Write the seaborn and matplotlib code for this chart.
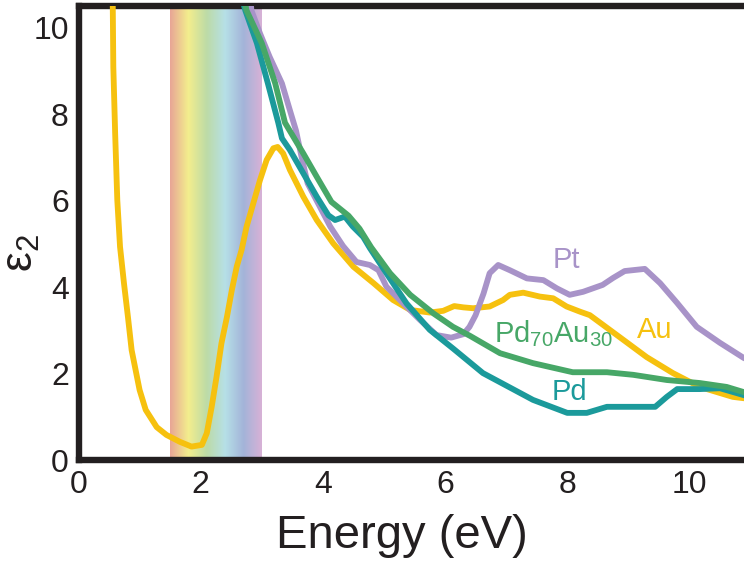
import numpy as np
import pandas as pd
import matplotlib
matplotlib.use("Agg")
import matplotlib.pyplot as plt
from matplotlib import font_manager
from matplotlib.colors import LinearSegmentedColormap
import seaborn as sns

# ---------------- data ----------------
au_x = [0.52, 0.56, 0.57, 0.60, 0.635, 0.68, 0.745, 0.81, 0.87, 1.0, 1.10, 1.28, 1.44, 1.66, 1.85,
        2.02, 2.10, 2.18, 2.26, 2.34, 2.43, 2.51, 2.59, 2.67, 2.75, 2.86, 2.97, 3.08, 3.19, 3.26,
        3.35, 3.46, 3.68, 3.90, 4.17, 4.50, 4.83, 5.15, 5.43, 5.75, 5.97, 6.15, 6.30, 6.46, 6.73,
        6.95, 7.06, 7.28, 7.55, 7.77, 7.99, 8.21, 8.37, 8.86, 9.30, 9.73, 10.17, 10.71, 11.0]
au_y = [11.2, 10.64, 9.09, 7.55, 6.01, 4.93, 4.08, 3.3, 2.54, 1.62, 1.16, 0.76, 0.58, 0.42, 0.31,
        0.35, 0.62, 1.23, 1.93, 2.7, 3.31, 3.93, 4.47, 4.86, 5.39, 5.93, 6.47, 6.94, 7.21, 7.24,
        7.09, 6.71, 6.09, 5.55, 5.01, 4.47, 4.09, 3.70, 3.47, 3.41, 3.45, 3.56, 3.53, 3.51, 3.55,
        3.70, 3.82, 3.87, 3.78, 3.74, 3.55, 3.43, 3.35, 2.84, 2.38, 2.01, 1.69, 1.46, 1.41]

pt_x = [2.80, 2.83, 2.97, 3.13, 3.33, 3.46, 3.56, 3.65, 3.75, 3.95, 4.12, 4.33, 4.55, 4.77, 4.91,
        5.04, 5.26, 5.59, 5.86, 6.10, 6.30, 6.40, 6.50, 6.63, 6.73, 6.87, 7.06, 7.34, 7.61, 7.83,
        8.04, 8.26, 8.58, 8.75, 8.94, 9.27, 9.52, 9.80, 10.12, 10.50, 10.89, 11.0]
pt_y = [10.87, 10.4, 9.87, 9.32, 8.71, 8.09, 7.62, 7.02, 6.40, 5.86, 5.40, 4.95, 4.58, 4.51, 4.39,
        4.01, 3.70, 3.24, 2.89, 2.83, 2.91, 3.08, 3.35, 3.85, 4.32, 4.51, 4.39, 4.20, 4.16, 3.97,
        3.82, 3.89, 4.05, 4.21, 4.37, 4.42, 4.09, 3.63, 3.08, 2.71, 2.36, 2.29]

pd_x = [2.64, 2.73, 2.92, 3.10, 3.27, 3.33, 3.46, 3.68, 3.90, 4.09, 4.20, 4.36, 4.49, 4.66, 4.77,
        5.04, 5.37, 5.75, 6.13, 6.62, 7.44, 8.0, 8.32, 8.65, 9.08, 9.44, 9.63, 9.80, 10.17, 10.50,
        10.89, 11.0]
pd_y = [10.87, 10.4, 9.64, 8.71, 7.80, 7.44, 7.17, 6.63, 6.09, 5.66, 5.55, 5.63, 5.40, 5.16, 4.90,
        4.32, 3.62, 3.01, 2.58, 2.01, 1.39, 1.09, 1.09, 1.23, 1.23, 1.23, 1.46, 1.64, 1.64, 1.66,
        1.50, 1.46]

pdau_x = [2.68, 2.75, 3.0, 3.22, 3.38, 3.68, 3.90, 4.14, 4.42, 4.60, 4.79, 5.10, 5.43, 5.81, 6.13,
          6.41, 6.90, 7.44, 8.09, 8.65, 9.08, 9.63, 10.17, 10.61, 10.89, 11.0]
pdau_y = [10.87, 10.4, 9.64, 8.71, 7.80, 7.09, 6.55, 5.97, 5.65, 5.35, 4.92, 4.32, 3.82, 3.39, 3.08,
          2.87, 2.47, 2.24, 2.03, 2.03, 1.97, 1.85, 1.78, 1.69, 1.57, 1.53]

series_names = ["Au", "Pt", "Pd", "PdAu"]
series_labels = ["Au", "Pt", "Pd", "Pd$_{70}$Au$_{30}$"]
label_x = [9.43, 7.99, 8.04, 7.77]
label_y = [3.0, 4.62, 1.57, 2.93]
x_ticks = [0, 2, 4, 6, 8, 10]
y_ticks = [0, 2, 4, 6, 8, 10]
visible_band = [1.5, 3.0]

colors = {"Pt": "#A893C8", "Au": "#F6C10F", "Pd": "#1B9A9B", "PdAu": "#47A767"}
band_colors = ["#E8A596", "#F3EE8D", "#BDDBA7", "#B6E0E7", "#A3B4D9", "#D8B1D6"]

frames = [
    pd.DataFrame({"E": au_x, "eps2": au_y, "metal": "Au"}),
    pd.DataFrame({"E": pt_x, "eps2": pt_y, "metal": "Pt"}),
    pd.DataFrame({"E": pd_x, "eps2": pd_y, "metal": "Pd"}),
    pd.DataFrame({"E": pdau_x, "eps2": pdau_y, "metal": "PdAu"}),
]
df = pd.concat(frames, ignore_index=True)

# ---------------- style ----------------
sns.set_theme(style="white")
plt.rcParams["font.family"] = ["Liberation Sans", "DejaVu Sans"]
plt.rcParams["mathtext.fontset"] = "custom"
plt.rcParams["mathtext.rm"] = "Liberation Sans"
plt.rcParams["mathtext.it"] = "Liberation Sans"
plt.rcParams["mathtext.default"] = "regular"

try:
    font_manager.findfont(font_manager.FontProperties(family="Liberation Sans Narrow"),
                          fallback_to_default=False)
    label_family = ["Liberation Sans Narrow", "Liberation Sans", "DejaVu Sans"]
    label_size = 41
except Exception:
    label_family = ["Liberation Sans", "DejaVu Sans"]
    label_size = 34

ink = "#231F20"
fig = plt.figure(figsize=(7.44, 5.62), dpi=100)
ax = fig.add_axes([78.5 / 744, 102 / 562, 672 / 744, 454 / 562])

# rainbow band of the visible range
cmap = LinearSegmentedColormap.from_list("vis", band_colors)
grad = np.linspace(0, 1, 256).reshape(1, -1)
ax.imshow(grad, cmap=cmap, aspect="auto", extent=[visible_band[0], visible_band[1], 0, 10.5],
          zorder=0, interpolation="bilinear")

sns.lineplot(data=df, x="E", y="eps2", hue="metal", hue_order=series_names,
             palette=colors, estimator=None, sort=False, linewidth=4.2,
             legend=False, ax=ax, zorder=3)
for ln in ax.lines:
    ln.set_solid_capstyle("round")
    ln.set_solid_joinstyle("round")

for name, lab, lx, ly in zip(series_names, series_labels, label_x, label_y):
    ax.text(lx, ly, lab, color=colors[name], fontsize=21, ha="center", va="center",
            family=["Liberation Sans", "DejaVu Sans"], zorder=5)

ax.set_xlim(0, 11)
ax.set_ylim(0, 10.5)
ax.set_xticks(x_ticks)
ax.set_yticks(y_ticks)
ax.tick_params(axis="both", direction="in", length=15, width=4.3, color=ink,
               labelsize=23, labelcolor=ink, pad=7)
for s in ["left", "bottom", "top"]:
    ax.spines[s].set_visible(True)
    ax.spines[s].set_linewidth(4.6)
    ax.spines[s].set_color(ink)
ax.spines["right"].set_visible(False)
ax.grid(False)

ax.set_xlabel("Energy (eV)", fontsize=label_size, family=label_family, color=ink)
ax.xaxis.set_label_coords(0.481, -0.118)
ax.set_ylabel("ε$_2$", fontsize=32, color=ink, family=["Liberation Sans", "DejaVu Sans"])
ax.yaxis.set_label_coords(-0.054, 0.455)

fig.savefig("out.png", dpi=100)
